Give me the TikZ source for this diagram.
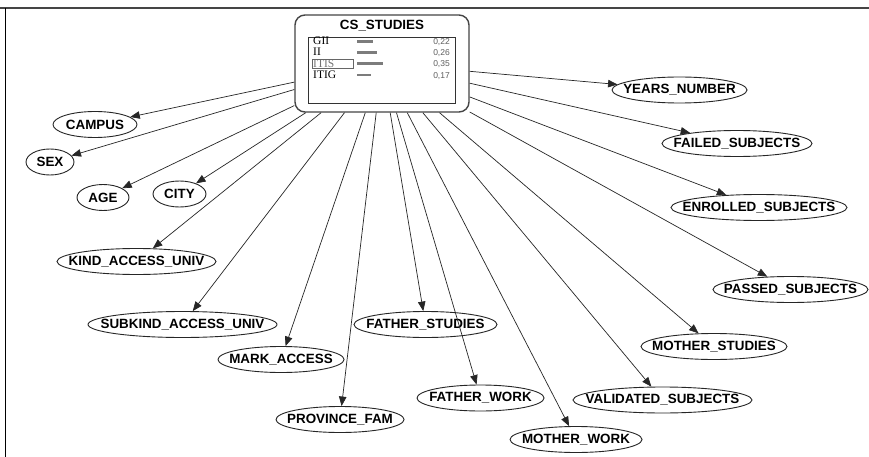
\documentclass[tikz,border=0pt]{standalone}
\usepackage{fontspec}
\setmainfont{Liberation Sans}
\newfontfamily\rowserif{Liberation Serif}
\usetikzlibrary{shapes.geometric,arrows.meta}
\definecolor{framegray}{HTML}{454545}
\definecolor{bargray}{HTML}{7C7C7C}
\definecolor{valgray}{HTML}{5E5E5E}
\newcommand\vartext[1]{\makebox[0pt]{#1}}
\begin{document}
\begin{tikzpicture}[x=1pt,y=-1pt,
  var/.style={ellipse, draw=black!85, line width=0.9pt, minimum height=26pt,
    inner sep=0pt, font=\fontsize{13.4}{14}\selectfont\bfseries},
  link/.style={draw=black!85, line width=0.7pt, -{Triangle[length=9.5pt,width=7.5pt]}},
  rowlabel/.style={anchor=base west, inner sep=0pt, font=\rowserif\fontsize{11.5}{11.5}\selectfont},
  rowvalue/.style={anchor=base east, inner sep=0pt, text=valgray, font=\fontsize{8.5}{9}\selectfont},
  bar/.style={fill=bargray}
]
\useasboundingbox (0,0) rectangle (869,457);
\fill[white] (0,0) rectangle (869,457);

% window frame
\draw[framegray, line width=2pt] (0,8.5) -- (869,8.5);
\draw[black, line width=1.6pt] (5.5,8.5) -- (5.5,457);

% class node with its probability table
\node[draw=framegray, line width=1.4pt, rounded corners=10pt, minimum width=174pt,
      minimum height=97pt, inner sep=0pt] (cs) at (382,63.5) {};
\node[font=\fontsize{13.4}{14}\selectfont\bfseries, inner sep=0pt] (cstitle) at (382,25.5) {CS\_STUDIES};
\node[draw=black!80, line width=0.8pt, minimum width=147pt, minimum height=66pt, inner sep=0pt] (tbl) at (381.5,70) {};

\node[rowlabel] (r1) at (313,45) {GII};
\node[rowlabel] (r2) at (313,56) {II};
\node[rowlabel, text=black!55] (r3) at (313,67.5) {ITIS};
\node[draw=black!60, line width=0.6pt, minimum width=41pt, minimum height=9pt, inner sep=0pt] (r3box) at (332.5,64) {};
\node[rowlabel] (r4) at (313,79) {ITIG};

\fill[bar] (357,39.8) rectangle (373,42.6);
\fill[bar] (357,50.8) rectangle (377,53.6);
\fill[bar] (357,62.2) rectangle (383,65.0);
\fill[bar] (357,73.6) rectangle (370.5,76.4);

\node[rowvalue] (v1) at (450,44.5) {0,22};
\node[rowvalue] (v2) at (450,55.5) {0,26};
\node[rowvalue] (v3) at (450,67) {0,35};
\node[rowvalue] (v4) at (450,78.5) {0,17};

% attribute nodes
\node[var, minimum width=84pt]  (campus)   at (95,124.5)   {\vartext{CAMPUS}};
\node[var, minimum width=48pt]  (sex)      at (50,162)     {\vartext{SEX}};
\node[var, minimum width=52pt]  (age)      at (103,197.5)  {\vartext{AGE}};
\node[var, minimum width=53pt]  (city)     at (179.5,194)  {\vartext{CITY}};
\node[var, minimum width=159pt] (kind)     at (136.5,261.5){\vartext{KIND\_ACCESS\_UNIV}};
\node[var, minimum width=189pt] (subkind)  at (182.5,324.5){\vartext{SUBKIND\_ACCESS\_UNIV}};
\node[var, minimum width=126pt] (mark)     at (281,359.5)  {\vartext{MARK\_ACCESS}};
\node[var, minimum width=128pt] (province) at (340,419.5)  {\vartext{PROVINCE\_FAM}};
\node[var, minimum width=143pt] (fstudies) at (425.5,324.5){\vartext{FATHER\_STUDIES}};
\node[var, minimum width=127pt] (fwork)    at (480.5,398)  {\vartext{FATHER\_WORK}};
\node[var, minimum width=132pt] (mwork)    at (576,439.5)  {\vartext{MOTHER\_WORK}};
\node[var, minimum width=179pt] (validated) at (662.5,400) {\vartext{VALIDATED\_SUBJECTS}};
\node[var, minimum width=146pt] (mstudies) at (714,346.5)  {\vartext{MOTHER\_STUDIES}};
\node[var, minimum width=155pt] (passed)   at (790.5,289.5){\vartext{PASSED\_SUBJECTS}};
\node[var, minimum width=176pt] (enrolled) at (759,207.5)  {\vartext{ENROLLED\_SUBJECTS}};
\node[var, minimum width=150pt] (failed)   at (737,143.5)  {\vartext{FAILED\_SUBJECTS}};
\node[var, minimum width=135pt] (years)    at (679.5,90)   {\vartext{YEARS\_NUMBER}};

% arcs from the class node
\foreach \t in {campus,sex,age,city,kind,subkind,mark,province,fstudies,fwork,
                mwork,validated,mstudies,passed,enrolled,failed,years}
  \draw[link] (cs) -- (\t);
\end{tikzpicture}
\end{document}
